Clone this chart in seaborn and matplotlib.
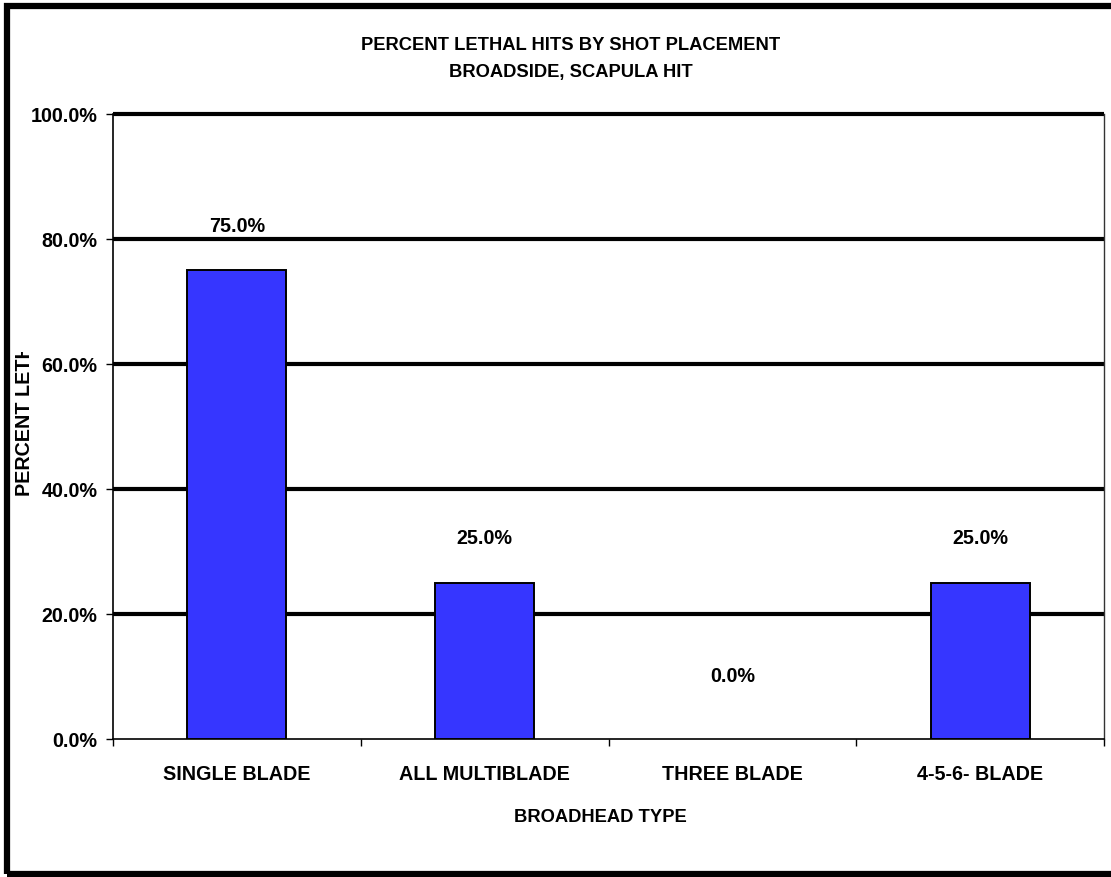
import matplotlib
matplotlib.use("Agg")
import matplotlib.pyplot as plt
from matplotlib.patches import Rectangle
from matplotlib.transforms import Bbox
import seaborn as sns
import pandas as pd

categories = ["SINGLE BLADE", "ALL MULTIBLADE", "THREE BLADE", "4-5-6- BLADE"]
percent_lethal = [75.0, 25.0, 0.0, 25.0]
y_ticks = [0, 20, 40, 60, 80, 100]

title_lines = ["PERCENT LETHAL HITS BY SHOT PLACEMENT", "BROADSIDE, SCAPULA HIT"]
x_label = "BROADHEAD TYPE"
y_label = "PERCENT LETHAL"

sns.set_theme(style="white")
plt.rcParams["font.family"] = ["Liberation Sans", "DejaVu Sans"]
plt.rcParams["font.weight"] = "bold"
for key in ["text.color", "axes.labelcolor", "xtick.color", "ytick.color"]:
    plt.rcParams[key] = "black"

W, H = 1111, 878
DPI = 100
FS = 14.2
FS_TITLE = 13.2
fig = plt.figure(figsize=(W / DPI, H / DPI), dpi=DPI)
fig.patch.set_facecolor("white")

ax = fig.add_axes([113 / W, (H - 740) / H, (1104 - 113) / W, (740 - 115) / H])

df = pd.DataFrame({"type": categories, "pct": percent_lethal})
sns.barplot(data=df, x="type", y="pct", color="#3636ff", saturation=1,
            width=0.40, edgecolor="black", linewidth=1.4, ax=ax, zorder=3)
for p, v in zip(ax.patches, percent_lethal):
    p.set_facecolor("#3636ff")
    p.set_edgecolor("black")
    if v == 0:
        p.set_linewidth(0)

ax.set_ylim(0, 100)
ax.set_xlim(-0.5, len(categories) - 0.5)

# heavy horizontal grid lines
for t in y_ticks[1:]:
    ax.axhline(t, color="black", lw=3.0, zorder=1, solid_capstyle="butt",
               clip_on=False)

ax.set_yticks(y_ticks)
ax.set_yticklabels([f"{t:.1f}%" for t in y_ticks], fontsize=FS, fontweight="bold")
ax.tick_params(axis="y", which="major", direction="out", length=5, width=1,
               color="black", pad=6, left=True)

ax.set_xticks(range(len(categories)))
ax.set_xticklabels(categories, fontsize=FS, fontweight="bold")
ax.set_xticks([i - 0.5 for i in range(len(categories) + 1)], minor=True)
ax.tick_params(axis="x", which="major", length=0, pad=18)
ax.tick_params(axis="x", which="minor", direction="out", length=5, width=1,
               color="black", bottom=True)
ax.set_xlabel("")
ax.set_ylabel("")

for side in ["left", "bottom"]:
    ax.spines[side].set_color("black")
    ax.spines[side].set_linewidth(1.2)
ax.spines["top"].set_visible(False)
ax.spines["right"].set_color("#333333")
ax.spines["right"].set_linewidth(1.0)
ax.grid(False)

# value labels above bars
for i, v in enumerate(percent_lethal):
    off = 45 if v > 0 else 63
    ax.annotate(f"{v:.1f}%", (i, v), xytext=(0, off * 72 / DPI),
                textcoords="offset points", ha="center", va="center",
                fontsize=FS, fontweight="bold", color="black")

# titles and axis labels
fig.text(571 / W, 1 - 45 / H, title_lines[0], ha="center", va="center",
         fontsize=FS_TITLE, fontweight="bold")
fig.text(571 / W, 1 - 73 / H, title_lines[1], ha="center", va="center",
         fontsize=FS_TITLE, fontweight="bold")
fig.text(600 / W, 1 - 818 / H, x_label, ha="center", va="center",
         fontsize=FS_TITLE, fontweight="bold")

ylab = fig.text(25 / W, 1 - 496 / H, y_label, ha="center", va="bottom",
                rotation=90, fontsize=FS, fontweight="bold")
clip = Bbox.from_extents(0, 0, 60, H - 353)
ylab.set_clip_box(clip)
ylab.set_clip_on(True)

# outer frame
fig.patches.append(Rectangle((7 / W, 1 - 875 / H), (1140 - 7) / W, (875 - 6.5) / H,
                             transform=fig.transFigure, fill=False,
                             edgecolor="black", linewidth=4.5, zorder=10))

fig.savefig("out.png", dpi=DPI, facecolor="white")
